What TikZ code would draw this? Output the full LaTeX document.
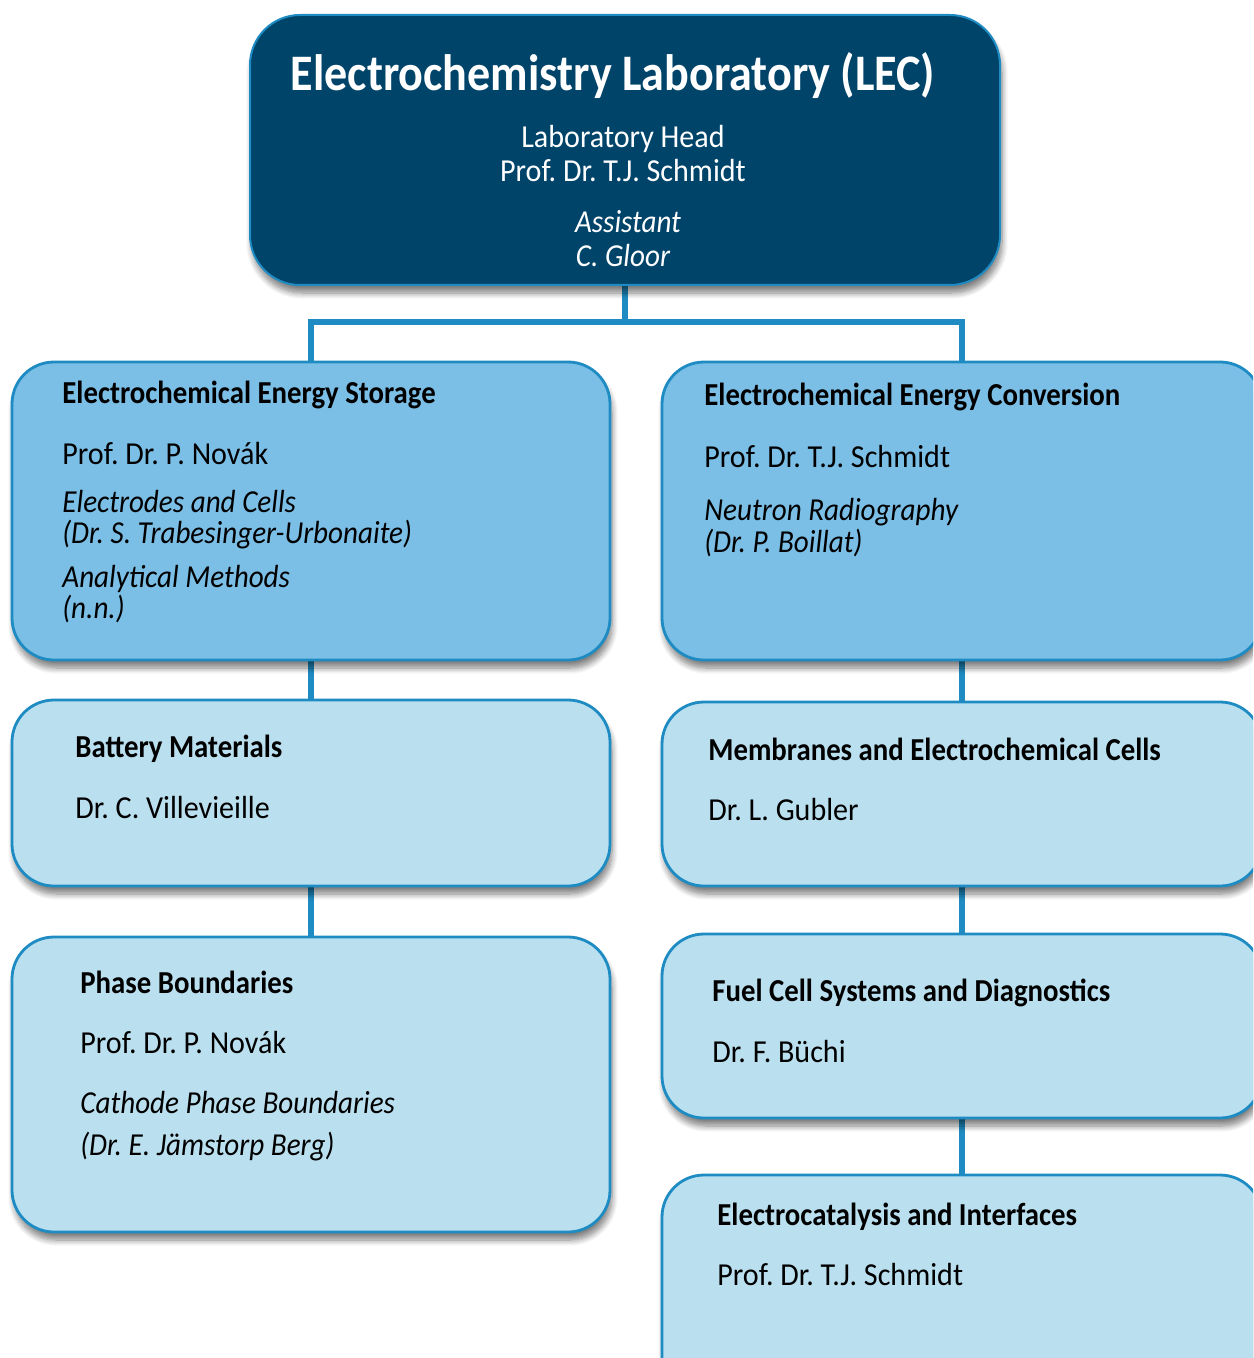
\documentclass[tikz,border=0pt]{standalone}
\usepackage{fontspec}
\setmainfont{Carlito}
\newfontfamily\narrowfont[
  UprightFeatures={FakeStretch=0.94},
  BoldFeatures={FakeStretch=0.9},
  ItalicFeatures={FakeStretch=0.91}]{Carlito}
\usetikzlibrary{fit,backgrounds,shadows.blur}
\definecolor{navy}{RGB}{0,68,106}
\definecolor{rim}{RGB}{30,140,195}
\definecolor{midblue}{RGB}{123,190,230}
\definecolor{paleblue}{RGB}{186,223,239}
\newcommand{\bodysize}{\narrowfont\fontsize{16}{19}\selectfont}
\tikzset{
  boxbase/.style={rectangle, inner sep=0pt, line width=1.4pt, draw=rim,
    blur shadow={shadow xshift=1pt, shadow yshift=-4pt, shadow blur radius=3pt,
      shadow blur steps=8, shadow opacity=50}},
  headbox/.style={boxbase, fill=navy, rounded corners=25pt, line width=1pt},
  groupbox/.style={boxbase, fill=midblue, rounded corners=21pt},
  unitbox/.style={boxbase, fill=paleblue, rounded corners=21pt},
  conn/.style={draw=rim, line width=3pt},
  body/.style={inner sep=0pt, anchor=base west, font=\bodysize},
  bodyb/.style={body, font=\bodysize\bfseries},
  bodyi/.style={body, font=\bodysize\itshape},
  headtxt/.style={inner sep=0pt, anchor=base, text=white, font=\bodysize},
}
\frenchspacing
\begin{document}
\begin{tikzpicture}[x=0.5pt, y=-0.5pt]
\useasboundingbox (0,0) rectangle (1253,1358);
\clip (0,0) rectangle (1253,1358);

% boxes
\node[headbox, fit={(250,15) (1000,285)}] (lec) {};
\node[groupbox, fit={(12,362) (610,660)}] (ees) {};
\node[groupbox, fit={(662,362) (1262,660)}] (eec) {};
\node[unitbox, fit={(12,700) (610,886)}] (bat) {};
\node[unitbox, fit={(662,702) (1262,886)}] (mem) {};
\node[unitbox, fit={(12,937) (610,1232)}] (pha) {};
\node[unitbox, fit={(662,934) (1262,1118)}] (fcs) {};
\node[unitbox, fit={(662,1175) (1262,1420)}] (eci) {};

% connectors
\coordinate (split) at (625,322);
\begin{scope}[on background layer]
  \draw[conn] (lec.south) -- (split);
  \draw[conn] (ees.north) |- (split) -| (eec.north);
  \draw[conn] (ees.south) -- (bat.north);
  \draw[conn] (bat.south) -- (pha.north);
  \draw[conn] (eec.south) -- (mem.north);
  \draw[conn] (mem.south) -- (fcs.north);
  \draw[conn] (fcs.south) -- (eci.north);
\end{scope}

% laboratory head
\node[headtxt, font=\narrowfont\fontsize{25.6}{30}\selectfont\bfseries] (lec-t) at (613,91) {Electrochemistry Laboratory (LEC)};
\node[headtxt] (lec-1) at (623,148) {Laboratory Head};
\node[headtxt] (lec-2) at (623,182) {Prof. Dr. T.J. Schmidt};
\node[headtxt, font=\bodysize\itshape] (lec-3) at (628,233) {Assistant};
\node[headtxt, font=\bodysize\itshape] (lec-4) at (623,267) {C. Gloor};

% energy storage
\node[bodyb] (ees-t) at (62,403) {Electrochemical Energy Storage};
\node[body]  (ees-1) at (62,464) {Prof. Dr. P. Novák};
\node[bodyi] (ees-2) at (62,512) {Electrodes and Cells};
\node[bodyi] (ees-3) at (62,543) {(Dr. S. Trabesinger-Urbonaite)};
\node[bodyi] (ees-4) at (62,587) {Analytical Methods};
\node[bodyi] (ees-5) at (62,618) {(n.n.)};

% energy conversion
\node[bodyb] (eec-t) at (704,405) {Electrochemical Energy Conversion};
\node[body]  (eec-1) at (704,467) {Prof. Dr. T.J. Schmidt};
\node[bodyi] (eec-2) at (704,520) {Neutron Radiography};
\node[bodyi] (eec-3) at (704,552) {(Dr. P. Boillat)};

% battery materials
\node[bodyb] (bat-t) at (75,757) {Battery Materials};
\node[body]  (bat-1) at (75,818) {Dr. C. Villevieille};

% membranes
\node[bodyb] (mem-t) at (708,760) {Membranes and Electrochemical Cells};
\node[body]  (mem-1) at (708,820) {Dr. L. Gubler};

% phase boundaries
\node[bodyb] (pha-t) at (80,993) {Phase Boundaries};
\node[body]  (pha-1) at (80,1053) {Prof. Dr. P. Novák};
\node[bodyi] (pha-2) at (80,1113) {Cathode Phase Boundaries};
\node[bodyi] (pha-3) at (80,1155) {(Dr. E. Jämstorp Berg)};

% fuel cells
\node[bodyb] (fcs-t) at (712,1001) {Fuel Cell Systems and Diagnostics};
\node[body]  (fcs-1) at (712,1062) {Dr. F. Büchi};

% electrocatalysis
\node[bodyb] (eci-t) at (717,1225) {Electrocatalysis and Interfaces};
\node[body]  (eci-1) at (717,1285) {Prof. Dr. T.J. Schmidt};
\end{tikzpicture}
\end{document}
